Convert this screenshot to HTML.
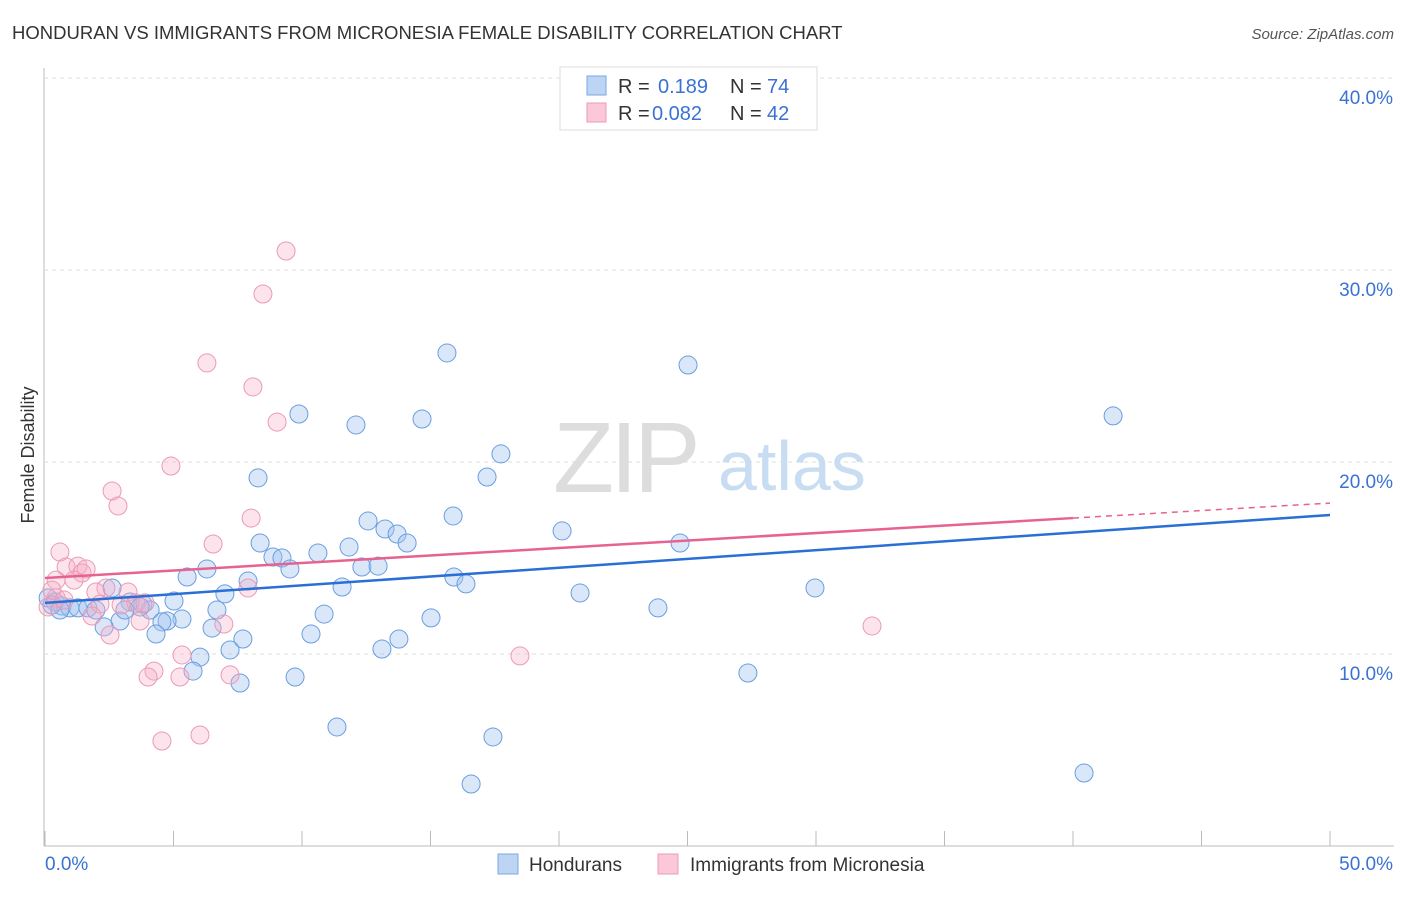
<!DOCTYPE html>
<html><head><meta charset="utf-8"><style>
body{margin:0;background:#fff;font-family:"Liberation Sans",sans-serif;}
svg text{font-family:"Liberation Sans",sans-serif;}
</style></head><body>
<svg id="chart" width="1406" height="892" viewBox="0 0 1406 892" xmlns="http://www.w3.org/2000/svg">
<text x="12" y="39" font-size="18.5" fill="#333">HONDURAN VS IMMIGRANTS FROM MICRONESIA FEMALE DISABILITY CORRELATION CHART</text>
<text x="1394" y="39" font-size="15" fill="#555" font-style="italic" text-anchor="end">Source: ZipAtlas.com</text>
<g id="grid"></g>
<g>
<text x="553" y="492" font-size="100" fill="#ddd" font-family="Liberation Serif" letter-spacing="-4">ZIP</text>
<text x="718" y="490" font-size="70" fill="#c8dcf2">atlas</text>
</g>
<g id="pts"></g>
<g id="lines"></g>
<text transform="translate(34,455) rotate(-90)" font-size="18" fill="#333" text-anchor="middle">Female Disability</text>
<g>
<rect x="560" y="67" width="257" height="63" fill="#fff" stroke="#ddd"/>
<rect x="587" y="76" width="19" height="19" fill="#bcd5f5" stroke="#7aa6e0"/>
<rect x="587" y="103" width="19" height="19" fill="#fac8d8" stroke="#ee9ab6"/>
<text x="618" y="93" font-size="20" fill="#333">R = </text><text x="658" y="93" font-size="20" fill="#3a72d4">0.189</text>
<text x="730" y="93" font-size="20" fill="#333">N = </text><text x="767" y="93" font-size="20" fill="#3a72d4">74</text>
<text x="618" y="120" font-size="20" fill="#333">R = </text><text x="652" y="120" font-size="20" fill="#3a72d4">0.082</text>
<text x="730" y="120" font-size="20" fill="#333">N = </text><text x="767" y="120" font-size="20" fill="#3a72d4">42</text>
</g>
<g>
<rect x="498" y="854" width="20" height="20" fill="#bcd5f5" stroke="#7aa6e0"/>
<text x="529" y="871" font-size="19" fill="#333">Hondurans</text>
<rect x="658" y="854" width="20" height="20" fill="#fac8d8" stroke="#ee9ab6"/>
<text x="690" y="871" font-size="19" fill="#333">Immigrants from Micronesia</text>
</g>
</svg>
<script>
const blueX=[15.64,25.02,41.56,9.88,14.67,12.1,17.74,17.2,8.29,15.88,12.57,13.23,13.7,14.09,20.12,8.37,8.87,9.22,10.62,11.83,24.71,9.53,12.33,12.96,6.3,5.53,7.9,15.91,16.38,11.56,29.96,2.61,7.0,20.82,5.02,3.81,6.69,23.85,10.86,15.02,3.31,4.09,5.33,4.75,4.55,2.92,2.3,6.5,4.32,10.35,7.7,13.77,13.11,6.03,7.2,5.76,9.73,7.59,27.35,11.36,17.43,16.58,40.43,0.12,0.39,0.66,0.97,1.28,1.67,1.98,3.7,3.11,0.27,0.58];
const blueY=[25.68,25.05,22.4,22.5,22.24,21.93,20.42,19.22,19.17,17.19,16.93,16.51,16.25,15.78,16.41,15.78,15.05,15.0,15.26,15.57,15.78,14.43,14.53,14.58,14.43,14.01,13.8,14.01,13.65,13.49,13.44,13.44,13.13,13.18,12.76,12.6,12.29,12.4,12.08,11.88,12.71,12.29,11.82,11.72,11.67,11.72,11.41,11.35,11.04,11.04,10.78,10.78,10.26,9.84,10.21,9.11,8.8,8.49,9.01,6.2,5.68,3.23,3.8,12.92,12.71,12.5,12.4,12.4,12.4,12.29,12.45,12.29,12.55,12.29];
const pinkX=[9.38,8.48,6.3,8.09,9.03,4.9,2.61,2.84,8.02,6.54,0.58,0.82,1.28,1.44,1.6,0.43,1.13,2.37,3.23,7.9,1.98,3.54,2.96,2.14,3.89,0.43,6.96,3.7,2.53,1.83,32.18,18.48,5.33,4.24,5.25,4.01,7.2,4.55,6.03,0.12,0.27,0.74];
const pinkY=[30.99,28.75,25.16,23.91,22.08,19.79,18.49,17.71,17.08,15.73,15.31,14.53,14.58,14.22,14.43,13.85,13.85,13.44,13.23,13.44,13.23,12.66,12.55,12.6,12.66,12.92,11.56,11.72,10.99,11.98,11.46,9.9,9.95,9.11,8.8,8.8,8.91,5.47,5.78,12.45,13.33,12.81];
const blueTrend=[12.66,17.24];
const pinkTrend=[13.96,17.86];
const pinkSolidEnd=40;
const yTicks=[10,20,30,40];
const yTickLabels=["10.0%","20.0%","30.0%","40.0%"];
const xTicks=[0,5,10,15,20,25,30,35,40,45,50];
const NS="http://www.w3.org/2000/svg";
const sx=v=>45+v*25.7, sy=v=>846-v*19.2;
function mk(tag,attrs,parent){const e=document.createElementNS(NS,tag);for(const k in attrs)e.setAttribute(k,attrs[k]);parent.appendChild(e);return e;}
const grid=document.getElementById('grid');
const ax=mk('line',{x1:44,y1:68,x2:44,y2:846,stroke:'#bbb'},grid);


const bx=mk('line',{x1:44,y1:846,x2:1394,y2:846,stroke:'#bbb'},grid);


yTicks.forEach((t,i)=>{
 const g=mk('line',{x1:44,y1:sy(t),x2:1394,y2:sy(t),stroke:'#ddd','stroke-dasharray':'4,4'},grid);
 
 
 const tx=mk('text',{x:1393,y:sy(t)+26,'font-size':19,fill:'#3a72d4','text-anchor':'end'},grid);
 tx.textContent=yTickLabels[i];
 
 
});
xTicks.forEach(t=>{
 const l=mk('line',{x1:sx(t),y1:831,x2:sx(t),y2:846,stroke:'#bbb'},grid);
 
 
});
const x0=mk('text',{x:45,y:870,'font-size':19,fill:'#3a72d4'},grid);x0.textContent='0.0%';


const x1=mk('text',{x:1393,y:870,'font-size':19,fill:'#3a72d4','text-anchor':'end'},grid);x1.textContent='50.0%';


const pts=document.getElementById('pts');
blueX.forEach((x,i)=>{
 const c=mk('circle',{cx:sx(x),cy:sy(blueY[i]),r:9,fill:'rgba(160,196,240,0.4)',stroke:'#6a9ee0','stroke-width':1},pts);
 
 
});
pinkX.forEach((x,i)=>{
 const c=mk('circle',{cx:sx(x),cy:sy(pinkY[i]),r:9,fill:'rgba(247,175,200,0.35)',stroke:'#eb9ab5','stroke-width':1},pts);
 
 
});
const lines=document.getElementById('lines');
const bl=mk('line',{x1:sx(0),y1:sy(blueTrend[0]),x2:sx(50),y2:sy(blueTrend[1]),stroke:'#2a6fd6','stroke-width':2.5},lines);


const pm=pinkTrend[0]+(pinkTrend[1]-pinkTrend[0])*pinkSolidEnd/50;
const pl=mk('line',{x1:sx(0),y1:sy(pinkTrend[0]),x2:sx(pinkSolidEnd),y2:sy(pm),stroke:'#e8628f','stroke-width':2.5},lines);


const pd=mk('line',{x1:sx(pinkSolidEnd),y1:sy(pm),x2:sx(50),y2:sy(pinkTrend[1]),stroke:'#e8628f','stroke-width':1.5,'stroke-dasharray':'6,5'},lines);


</script>
</body></html>
